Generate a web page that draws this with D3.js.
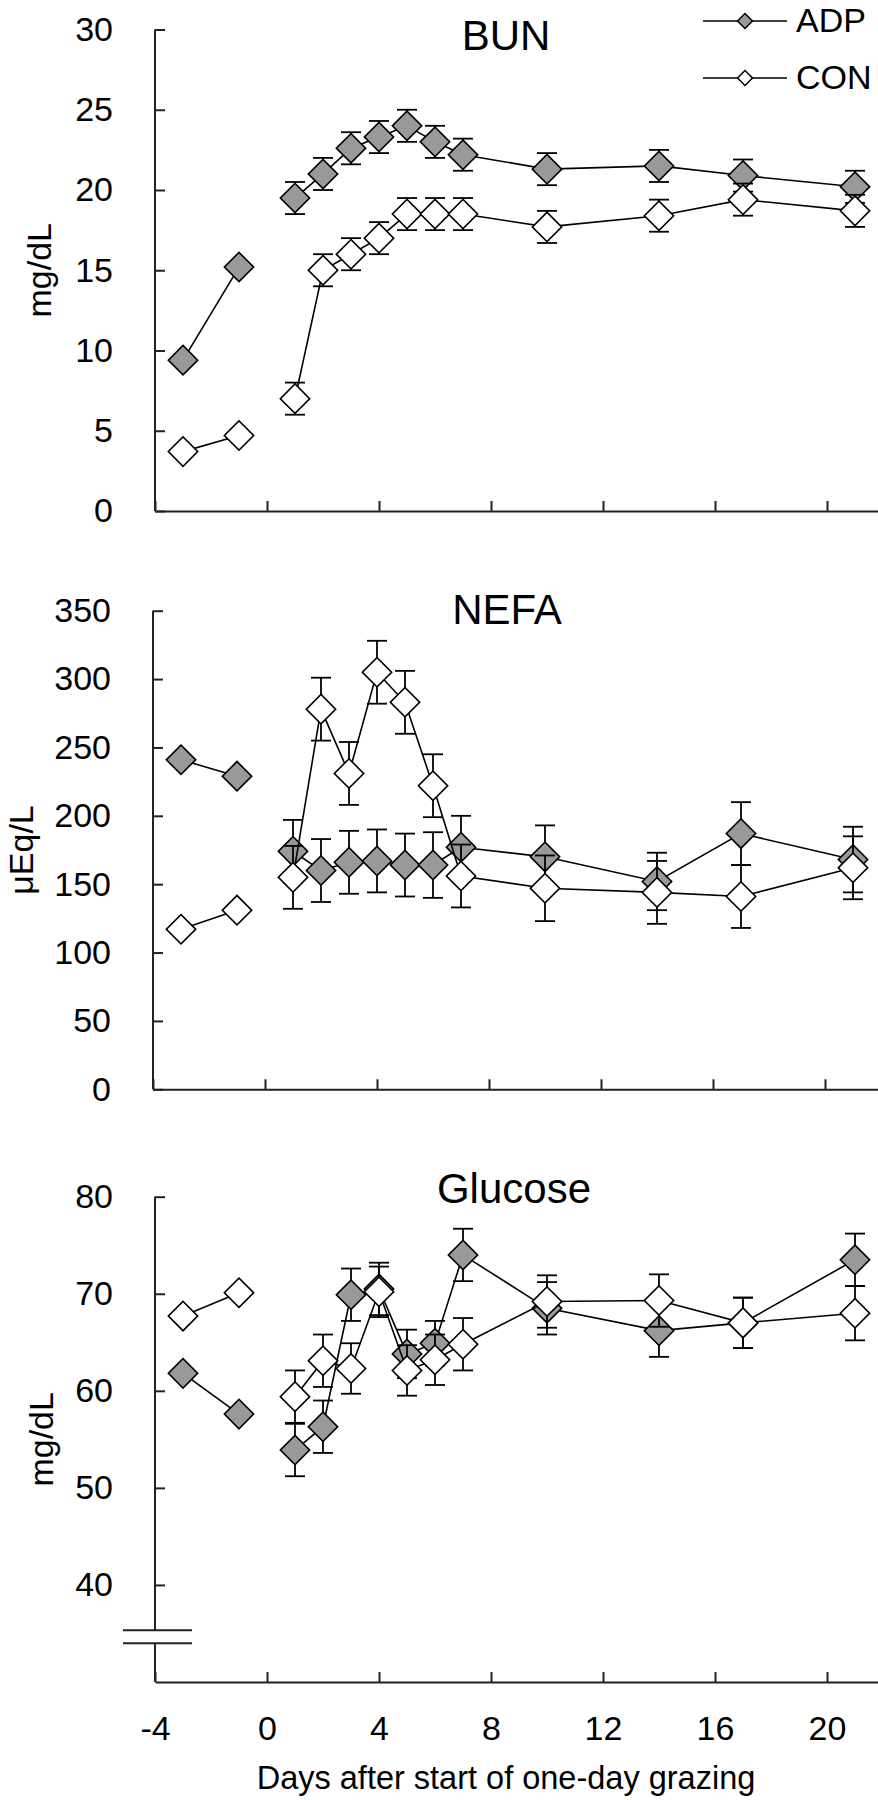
<!DOCTYPE html>
<html>
<head>
<meta charset="utf-8">
<script src="https://cdn.jsdelivr.net/npm/d3@7"></script>
<style>
  body { margin: 0; background: #fff; }
  svg { display: block; font-family: 'Liberation Sans', Arial, sans-serif; }
</style>
</head>
<body>
<svg id="chart" width="878" height="1800"></svg>
<script>
const days = [-3, -1, 1, 2, 3, 4, 5, 6, 7, 10, 14, 17, 21]
const xTicks = [-4, 0, 4, 8, 12, 16, 20]
const groups = ['ADP', 'CON']

const bunTicks = [0, 5, 10, 15, 20, 25, 30]
const bunAdp = [9.4, 15.2, 19.5, 21.0, 22.6, 23.3, 24.0, 23.0, 22.2, 21.3, 21.5, 20.9, 20.2]
const bunAdpSe = [null, null, 1.0, 1.0, 1.0, 1.0, 1.0, 1.0, 1.0, 1.0, 1.0, 1.0, 1.0]
const bunCon = [3.7, 4.7, 7.0, 15.0, 16.0, 17.0, 18.5, 18.5, 18.5, 17.7, 18.4, 19.4, 18.7]
const bunConSe = [null, null, 1.0, 1.0, 1.0, 1.0, 1.0, 1.0, 1.0, 1.0, 1.0, 1.0, 1.0]

const nefaTicks = [0, 50, 100, 150, 200, 250, 300, 350]
const nefaAdp = [241, 229, 174, 160, 166, 167, 164, 164, 177, 170, 152, 187, 168]
const nefaAdpSe = [null, null, 23, 23, 23, 23, 23, 24, 23, 23, 21, 23, 24]
const nefaCon = [117, 131, 155, 278, 231, 305, 283, 222, 156, 147, 144, 141, 162]
const nefaConSe = [null, null, 23, 23, 23, 23, 23, 23, 23, 24, 23, 23, 23]

const gluTicks = [40, 50, 60, 70, 80]
const gluAdp = [61.8, 57.6, 53.9, 56.3, 69.9, 70.5, 63.8, 64.9, 74.0, 68.5, 66.2, 67.0, 73.5]
const gluAdpSe = [null, null, 2.7, 2.7, 2.7, 2.7, 2.5, 2.3, 2.7, 2.7, 2.7, 2.6, 2.7]
const gluCon = [67.7, 70.1, 59.4, 63.1, 62.3, 70.2, 62.1, 63.2, 64.8, 69.2, 69.3, 67.0, 68.0]
const gluConSe = [null, null, 2.7, 2.7, 2.6, 2.6, 2.6, 2.6, 2.7, 2.7, 2.7, 2.6, 2.8]

const FILLS = { ADP: '#999999', CON: '#ffffff' }
const FONT = 34

const svg = d3.select('#chart')
svg.append('rect').attr('width', 878).attr('height', 1800).attr('fill', '#fff')

const x = d3.scaleLinear().domain([-4, 22]).range([155, 883])
const diamond = (size) => d3.symbol(d3.symbolSquare, size)

const toPoints = (vals, se) => days.map((day, i) => ({ day, v: vals[i], se: se[i] }))

const panels = [
  {
    title: 'BUN', unit: 'mg/dL', domain: [0, 30], ticks: bunTicks,
    top: 29.5, bottom: 511, titleX: 506, titleY: 50, unitX: 51, dx: 0,
    series: [toPoints(bunAdp, bunAdpSe), toPoints(bunCon, bunConSe)]
  },
  {
    title: 'NEFA', unit: 'μEq/L', domain: [0, 350], ticks: nefaTicks,
    top: 610.7, bottom: 1089.3, titleX: 509, titleY: 624, unitX: 35, dx: -2,
    series: [toPoints(nefaAdp, nefaAdpSe), toPoints(nefaCon, nefaConSe)]
  },
  {
    title: 'Glucose', unit: 'mg/dL', domain: [30, 80], ticks: gluTicks,
    top: 1196.7, bottom: 1682, titleX: 514, titleY: 1203, unitX: 53, dx: 0,
    breakAt: [1630.3, 1643.3], labels: true,
    series: [toPoints(gluAdp, gluAdpSe), toPoints(gluCon, gluConSe)]
  }
]

function plotPanel(p) {
  const y = d3.scaleLinear().domain(p.domain).range([p.bottom, p.top])
  const g = svg.append('g').attr('transform', `translate(${p.dx},0)`)

  // y axis (line drawn by hand so the glucose break can be cut out)
  const yAxis = g.append('g')
    .attr('transform', `translate(${x(-4)},0)`)
    .call(d3.axisLeft(y).tickValues(p.ticks).tickSizeInner(-10).tickSizeOuter(0).tickPadding(42))
  yAxis.select('.domain').remove()
  yAxis.attr('font-size', FONT).attr('font-family', null)
  yAxis.selectAll('line').attr('stroke', '#222').attr('stroke-width', 2)
  yAxis.selectAll('text').attr('fill', '#000')

  const axisSegs = p.breakAt
    ? [[y(p.domain[1]), p.breakAt[0]], [p.breakAt[1], p.bottom]]
    : [[y(p.domain[1]), p.bottom]]
  g.selectAll('line.yaxis').data(axisSegs).join('line')
    .attr('class', 'yaxis')
    .attr('x1', x(-4)).attr('x2', x(-4))
    .attr('y1', (d) => d[0]).attr('y2', (d) => d[1])
    .attr('stroke', '#222').attr('stroke-width', 2)
  if (p.breakAt) {
    g.selectAll('line.brk').data(p.breakAt).join('line')
      .attr('class', 'brk')
      .attr('x1', x(-4) - 32).attr('x2', x(-4) + 37)
      .attr('y1', (d) => d).attr('y2', (d) => d)
      .attr('stroke', '#222').attr('stroke-width', 2)
  }

  const xAxis = g.append('g')
    .attr('transform', `translate(0,${p.bottom})`)
    .call(d3.axisBottom(x).tickValues(xTicks).tickSizeInner(-10).tickSizeOuter(0).tickPadding(34)
      .tickFormat(p.labels ? (d) => d : () => ''))
  xAxis.attr('font-size', FONT).attr('font-family', null)
  xAxis.select('.domain').attr('stroke', '#222').attr('stroke-width', 2)
  xAxis.selectAll('line').attr('stroke', '#222').attr('stroke-width', 2)
  xAxis.selectAll('text').attr('fill', '#000')

  g.append('text')
    .attr('x', p.titleX).attr('y', p.titleY)
    .attr('text-anchor', 'middle').attr('font-size', 42)
    .text(p.title)

  g.append('text')
    .attr('transform', `translate(${p.unitX},${(p.top + p.bottom) / 2}) rotate(-90)`)
    .attr('text-anchor', 'middle').attr('font-size', FONT)
    .text(p.unit)

  const line = d3.line().x((d) => x(d.day)).y((d) => y(d.v))

  p.series.forEach((pts, si) => {
    const fill = FILLS[groups[si]]
    const sg = g.append('g').attr('class', `series-${groups[si]}`)
    const parts = [pts.filter((d) => d.day < 0), pts.filter((d) => d.day > 0)]

    sg.selectAll('path.line').data(parts).join('path')
      .attr('class', 'line')
      .attr('d', line)
      .attr('fill', 'none').attr('stroke', '#000').attr('stroke-width', 1.6)

    const withErr = pts.filter((d) => d.se != null)
    const eb = sg.selectAll('g.err').data(withErr).join('g').attr('class', 'err')
      .attr('stroke', '#000').attr('stroke-width', 1.8)
    eb.append('line')
      .attr('x1', (d) => x(d.day)).attr('x2', (d) => x(d.day))
      .attr('y1', (d) => y(d.v - d.se)).attr('y2', (d) => y(d.v + d.se))
    eb.append('line')
      .attr('x1', (d) => x(d.day) - 10).attr('x2', (d) => x(d.day) + 10)
      .attr('y1', (d) => y(d.v + d.se)).attr('y2', (d) => y(d.v + d.se))
    eb.append('line')
      .attr('x1', (d) => x(d.day) - 10).attr('x2', (d) => x(d.day) + 10)
      .attr('y1', (d) => y(d.v - d.se)).attr('y2', (d) => y(d.v - d.se))

    sg.selectAll('path.mark').data(pts).join('path')
      .attr('class', 'mark')
      .attr('d', diamond(430))
      .attr('transform', (d) => `translate(${x(d.day)},${y(d.v)}) rotate(45)`)
      .attr('fill', fill).attr('stroke', '#000').attr('stroke-width', 1.6)
  })
}

panels.forEach(plotPanel)

svg.append('text')
  .attr('x', 506).attr('y', 1789)
  .attr('text-anchor', 'middle').attr('font-size', 32.5)
  .text('Days after start of one-day grazing')

// legend
const legendY = [21, 78]
const legend = svg.selectAll('g.legend').data(groups).join('g')
  .attr('class', 'legend')
  .attr('transform', (d, i) => `translate(0,${legendY[i]})`)
legend.append('line')
  .attr('x1', 703).attr('x2', 787)
  .attr('stroke', '#000').attr('stroke-width', 1.5)
legend.append('path')
  .attr('d', diamond(112))
  .attr('transform', 'translate(745,0) rotate(45)')
  .attr('fill', (d) => FILLS[d]).attr('stroke', '#000').attr('stroke-width', 1.5)
legend.append('text')
  .attr('x', 796).attr('y', 11)
  .attr('font-size', FONT)
  .text((d) => d)
</script>
</body>
</html>
